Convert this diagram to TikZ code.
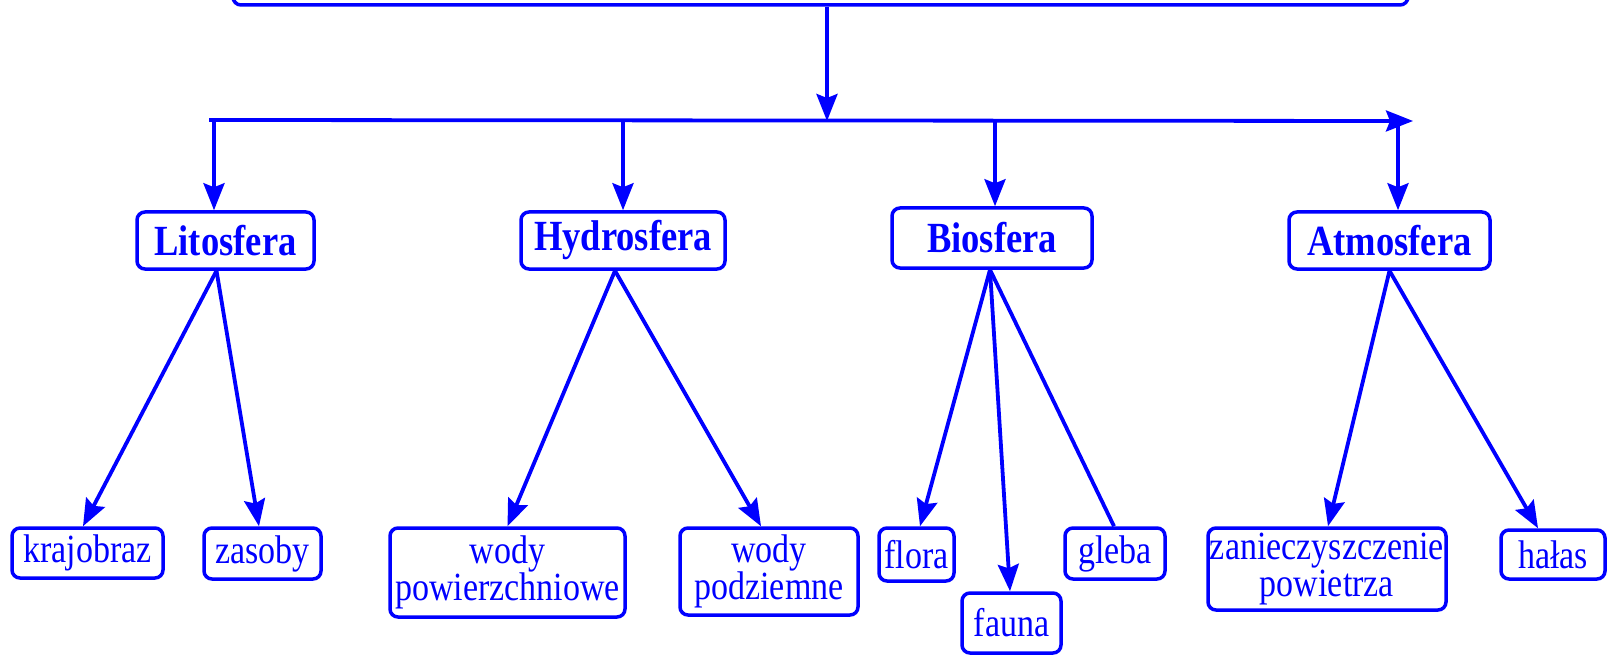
\documentclass[tikz,border=0pt]{standalone}
\usepackage{fontspec}
\setmainfont{Liberation Serif}[FakeStretch=0.85]
\usetikzlibrary{arrows.meta}
\begin{document}
\begin{tikzpicture}[x=1pt,y=-1pt,
  box/.style={draw=blue, line width=3.5pt, rounded corners=8pt, inner sep=0pt, text=blue},
  topbox/.style={box, font=\fontsize{43}{44}\selectfont\bfseries},
  leaf/.style={box, font=\fontsize{40}{34}\selectfont, align=center},
  arr/.style={draw=blue, line width=3.8pt, -{Stealth[length=27pt,width=21pt,inset=4pt]}},
  ln/.style={draw=blue, line width=3.8pt}]
\useasboundingbox (0,0) rectangle (1612,655);
\clip (0,0) rectangle (1612,655);

% top (cut-off) box
\node[box, minimum width=1175pt, minimum height=65pt] (root) at (820.5,-27.5) {};

% level 1
\node[topbox, minimum width=177pt, minimum height=57pt] (lito) at (225.5,240.5) {Litosfera};
\node[topbox, minimum width=204pt, minimum height=57pt] (hydro) at (623,240.5) {Hydrosfera};
\node[topbox, minimum width=200pt, minimum height=60pt] (bio) at (992,238) {Biosfera};
\node[topbox, minimum width=201pt, minimum height=57pt] (atmo) at (1389.5,240.5) {Atmosfera};

% leaves
\node[leaf, minimum width=151pt, minimum height=50pt] (kraj) at (87.5,553) {krajobraz};
\node[leaf, minimum width=117pt, minimum height=51pt] (zas) at (262.5,553.5) {zasoby};
\node[leaf, minimum width=235pt, minimum height=89pt] (wpow) at (507.5,572.5) {wody\\powierzchniowe};
\node[leaf, minimum width=178pt, minimum height=87pt] (wpod) at (769,571.5) {wody\\podziemne};
\node[leaf, minimum width=75pt, minimum height=53pt] (flora) at (916.5,554.5) {flora};
\node[leaf, minimum width=99pt, minimum height=60pt] (fauna) at (1011.5,623) {fauna};
\node[leaf, minimum width=100pt, minimum height=51pt] (gleba) at (1115,553.5) {gleba};
\node[leaf, minimum width=238pt, minimum height=82pt] (zan) at (1327,569) {zanieczyszczenie\\powietrza};
\node[leaf, minimum width=104pt, minimum height=49pt] (halas) at (1553,554.5) {hałas};

% bar coordinates
\coordinate (hub) at (827,121);
\coordinate (barL) at (209,120);
\coordinate (barR) at (1413,121);
\coordinate (jL) at (214,121);
\coordinate (jH) at (623,121);
\coordinate (jB) at (995,121);
\coordinate (jA) at (1398,121);

\draw[arr] (root.south -| hub) -- (hub);
\draw[arr] (barL) -- (barR);
\draw[arr] (jL) -- (lito.north -| jL);
\draw[arr] (jH) -- (hydro.north -| jH);
\draw[arr] (jB) -- (bio.north -| jB);
\draw[arr] (jA) -- (atmo.north -| jA);

% children
\draw[arr] ([xshift=-9pt]lito.south) -- ([xshift=-4.5pt]kraj.north);
\draw[arr] ([xshift=-9pt]lito.south) -- ([xshift=-3.5pt]zas.north);
\draw[arr] ([xshift=-8pt]hydro.south) -- (wpow.north);
\draw[arr] ([xshift=-8pt]hydro.south) -- ([xshift=-8pt]wpod.north);
\draw[arr] ([xshift=-2pt]bio.south) -- ([xshift=3.5pt]flora.north);
\draw[arr] ([xshift=-2pt]bio.south) -- ([xshift=-1.5pt]fauna.north);
\draw[ln] ([xshift=-2pt]bio.south) -- ([xshift=-1pt]gleba.north);
\draw[arr] (atmo.south) -- ([xshift=1pt]zan.north);
\draw[arr] (atmo.south) -- ([xshift=-15pt]halas.north);
\end{tikzpicture}
\end{document}
